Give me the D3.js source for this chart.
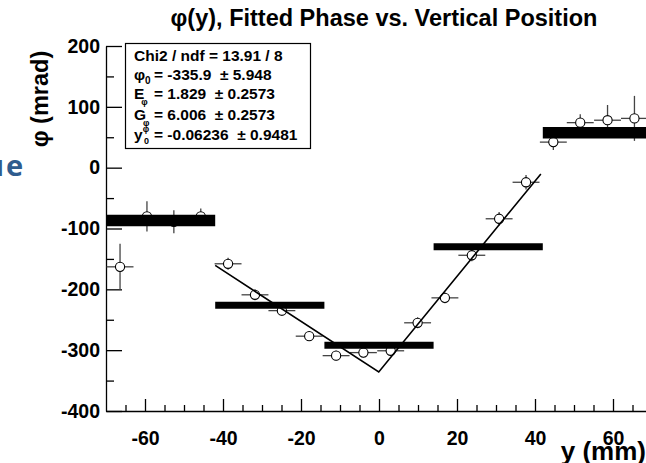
<!DOCTYPE html>
<html>
<head>
<meta charset="utf-8">
<script src="https://cdn.jsdelivr.net/npm/d3@7"></script>
<style>
  html, body { margin: 0; padding: 0; background: #fff; }
  svg { display: block; }
  text { font-family: "Liberation Sans", Arial, Helvetica, sans-serif; font-weight: bold; }
</style>
</head>
<body>
<svg id="chart" width="646" height="463"></svg>
<script>
// Measured phase per vertical slice (open circles)
const pointPos = [-66.4, -59.5, -52.6, -45.7, -38.7, -31.8, -24.9, -17.9, -11.0, -4.0,
                  3.0, 9.9, 16.9, 23.8, 30.8, 37.7, 44.7, 51.6, 58.6, 65.5];
const pointPhi = [-163, -80, -89, -80, -158, -209, -235, -277, -309, -304,
                  -301, -255, -214, -144, -84, -24, 42, 74, 78, 81];
const pointErr = [38, 25, 19, 13, 10, 9, 9, 8, 8, 8,
                  8, 9, 9, 10, 11, 12, 13, 14, 25, 37];
const pointHalfWidth = 3.45;

// Coarse bins (thick horizontal bars)
const binEdges = [-70, -42, -14, 14, 42, 70];
const binPhi = [-87, -226, -292, -130, 57.5];

// Fit result: phi0 + G*|y - y0| + E*(y - y0)
const fitPhi0 = -335.9, fitE = 1.829, fitG = 6.006, fitY0 = -0.06236;
const fitRange = [-42, 41.5];

// Axis ticks
const xMajor = [-60, -40, -20, 0, 20, 40, 60];
const xMinor = [-65, -55, -50, -45, -35, -30, -25, -15, -10, -5, 5, 10, 15, 25, 30, 35, 45, 50, 55, 65];
const yMajor = [200, 100, 0, -100, -200, -300, -400];
const yMinor = [150, 50, -50, -150, -250, -350];

const statLines = [
  { main: "Chi2 / ndf = 13.91 / 8" },
  { head: "\u03c6", sub: "0", rest: "= -335.9  \u00b1 5.948" },
  { head: "E", sub: "\u03c6", rest: "= 1.829  \u00b1 0.2573" },
  { head: "G", sub: "\u03c6", rest: "= 6.006  \u00b1 0.2573" },
  { head: "y", sup: "\u03c6", sub: "0", rest: "= -0.06236  \u00b1 0.9481" }
];

const svg = d3.select("#chart");
const plotLeft = 106, plotRight = 652, plotTop = 46, plotBottom = 411;

const x = d3.scaleLinear().domain([-70, 70]).range([plotLeft, plotRight]);
const y = d3.scaleLinear().domain([-400, 200]).range([plotBottom, plotTop]);

// plain hyphen-minus labels
const fmt = d => String(d);

// stray slide text at the far left edge
const slide = svg.append("text")
  .attr("x", -15).attr("y", 176)
  .style("font-family", "'Open Sans', sans-serif")
  .style("font-weight", "bold")
  .style("font-size", "29px")
  .attr("fill", "#2f5c8e");
slide.append("tspan").text("u");
slide.append("tspan").attr("dx", 2).text("e");

// Title
svg.append("text")
  .attr("x", 384).attr("y", 26)
  .attr("text-anchor", "middle")
  .style("font-size", "23.5px")
  .text("\u03c6(y), Fitted Phase vs. Vertical Position");

// Axes: ROOT style, ticks inside the frame
const gx = svg.append("g").attr("transform", `translate(0,${plotBottom})`);
gx.call(d3.axisBottom(x).tickValues(xMajor).tickSizeInner(-12).tickSizeOuter(0).tickPadding(20).tickFormat(fmt));
const gxm = svg.append("g").attr("transform", `translate(0,${plotBottom})`);
gxm.call(d3.axisBottom(x).tickValues(xMinor).tickSizeInner(-6).tickSizeOuter(0).tickFormat(""));
gxm.select(".domain").remove();

const gy = svg.append("g").attr("transform", `translate(${plotLeft},0)`);
gy.call(d3.axisLeft(y).tickValues(yMajor).tickSizeInner(-16).tickSizeOuter(0).tickPadding(6).tickFormat(fmt));
const gym = svg.append("g").attr("transform", `translate(${plotLeft},0)`);
gym.call(d3.axisLeft(y).tickValues(yMinor).tickSizeInner(-8).tickSizeOuter(0).tickFormat(""));
gym.select(".domain").remove();

svg.selectAll(".domain, .tick line").attr("stroke", "#000").attr("stroke-width", 1.3);
svg.selectAll(".tick text")
  .style("font-family", "'Liberation Sans', Arial, sans-serif")
  .style("font-weight", "bold")
  .style("font-size", "19.5px")
  .attr("fill", "#000");

// Axis titles
svg.append("text")
  .attr("transform", "translate(48,99) rotate(-90)")
  .attr("text-anchor", "middle")
  .style("font-size", "23.5px")
  .text("\u03c6 (mrad)");

svg.append("text")
  .attr("x", 646).attr("y", 460)
  .attr("text-anchor", "end")
  .style("font-size", "26px")
  .text("y (mm)");

// Data points with error bars
const pts = pointPos.map((p, i) => ({ p, v: pointPhi[i], e: pointErr[i] }));
const gp = svg.append("g");
const errColor = "#444";
gp.selectAll("line.ex").data(pts).join("line").attr("class", "ex")
  .attr("x1", d => x(d.p - pointHalfWidth)).attr("x2", d => x(d.p + pointHalfWidth))
  .attr("y1", d => y(d.v)).attr("y2", d => y(d.v))
  .attr("stroke", errColor).attr("stroke-width", 1.3);
gp.selectAll("line.ey").data(pts).join("line").attr("class", "ey")
  .attr("x1", d => x(d.p)).attr("x2", d => x(d.p))
  .attr("y1", d => y(d.v - d.e)).attr("y2", d => y(d.v + d.e))
  .attr("stroke", errColor).attr("stroke-width", 1.3);
gp.selectAll("circle").data(pts).join("circle")
  .attr("cx", d => x(d.p)).attr("cy", d => y(d.v)).attr("r", 4.6)
  .attr("fill", "#fff").attr("stroke", "#000").attr("stroke-width", 1.1);

// Coarse bins
const bins = binPhi.map((v, i) => ({ v, a: binEdges[i], b: binEdges[i + 1], outer: i === 0 || i === binPhi.length - 1 }));
svg.append("g").selectAll("line").data(bins).join("line")
  .attr("x1", d => x(d.a)).attr("x2", d => x(d.b))
  .attr("y1", d => y(d.v)).attr("y2", d => y(d.v))
  .attr("stroke", "#000")
  .attr("stroke-width", d => d.outer ? 11.5 : 7);

// Fitted V-shaped function
const fitFn = t => fitPhi0 + fitG * Math.abs(t - fitY0) + fitE * (t - fitY0);
const fitPts = [fitRange[0], fitY0, fitRange[1]];
svg.append("path")
  .attr("d", d3.line().x(t => x(t)).y(t => y(fitFn(t)))(fitPts))
  .attr("fill", "none").attr("stroke", "#000").attr("stroke-width", 1.6);

// Fit statistics box
const box = svg.append("g");
box.append("rect")
  .attr("x", 125.5).attr("y", 43.5).attr("width", 185).attr("height", 105)
  .attr("fill", "#fff").attr("stroke", "#000").attr("stroke-width", 1.2);
const baselines = [61, 80, 99, 120, 140];
statLines.forEach((ln, i) => {
  const t = box.append("text")
    .attr("x", 134).attr("y", baselines[i])
    .style("font-size", "15.5px")
    .style("white-space", "pre");
  if (ln.main) { t.text(ln.main); return; }
  t.append("tspan").text(ln.head);
  if (ln.sup) {
    t.append("tspan").attr("dy", -8).style("font-size", "9px").text(ln.sup);
    t.append("tspan").attr("dx", -5).attr("dy", 12).style("font-size", "9px").text(ln.sub);
  } else if (ln.head === "\u03c6") {
    t.append("tspan").attr("dy", 4).style("font-size", "10px").text(ln.sub);
  } else {
    t.append("tspan").attr("dx", -3).attr("dy", 6).style("font-size", "9px").text(ln.sub);
  }
  t.append("tspan").attr("x", 154).attr("y", baselines[i]).text(ln.rest);
});
</script>
</body>
</html>
